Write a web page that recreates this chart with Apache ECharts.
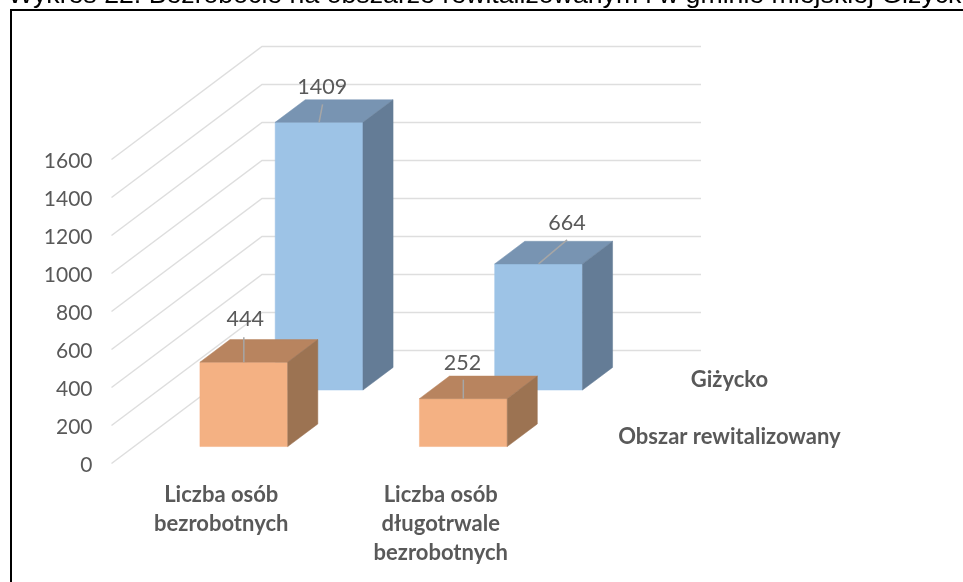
<!DOCTYPE html>
<html>
<head>
<meta charset="utf-8">
<title>Wykres 22</title>
<style>
  html, body { margin: 0; padding: 0; background: #fff; }
  #main { width: 963px; height: 582px; }
</style>
<script src="https://cdn.jsdelivr.net/npm/echarts@6/dist/echarts.min.js"></script>
</head>
<body>
<div id="main"></div>
<script>
const titleText = "Wykres 22. Bezrobocie na obszarze rewitalizowanym i w gminie miejskiej Giżycko";
const categories = ["Liczba osób\nbezrobotnych", "Liczba osób\ndługotrwale\nbezrobotnych"];
const seriesNames = ["Obszar rewitalizowany", "Giżycko"];
const rewitalizowany = [444, 252];
const gizycko = [1409, 664];
const yTicks = [0, 200, 400, 600, 800, 1000, 1200, 1400, 1600];

// the floor runs this far in pixels from the front plane to the back wall
const FLOOR_DX = 150.5;
const FLOOR_DY = -113;
const BAR_WIDTH = 0.4;  // share of a category band
const BAR_DEPTH = 0.2;  // share of the floor depth

const LABEL_FONT = "Lato, sans-serif";
const TEXT_COLOR = "#595959";

const blue = { front: "#9dc3e6", top: "#7894b2", side: "#647c96" };
const orange = { front: "#f4b183", top: "#b8845f", side: "#9c7352" };

// leader end and label centre, relative to the top front edge of the bar
const orangeLabels = [{ lx: 0, ly: -25, tx: 1.5, ty: -43 }, { lx: 0, ly: -19, tx: -0.8, ty: -36 }];
const blueLabels = [{ lx: 3.5, ly: -18, tx: 3.2, ty: -35 }, { lx: 28.5, ly: -24, tx: 28.5, ty: -41 }];

function project(p, depth) {
  return [p[0] + FLOOR_DX * depth, p[1] + FLOOR_DY * depth];
}

function face(points, color) {
  return {
    type: "polygon",
    shape: { points: points },
    style: { fill: color, stroke: color, lineWidth: 0.5 }
  };
}

function barRenderer(row, colors, labels) {
  const center = (row + 0.5) / 2;
  const d0 = center - BAR_DEPTH / 2;
  const d1 = center + BAR_DEPTH / 2;
  return function (params, api) {
    const cat = api.value(0);
    const value = api.value(1);
    const half = (api.size([1, 0])[0] * BAR_WIDTH) / 2;
    const top = api.coord([cat, value]);
    const base = api.coord([cat, 0]);
    const tl = [top[0] - half, top[1]];
    const tr = [top[0] + half, top[1]];
    const bl = [base[0] - half, base[1]];
    const br = [base[0] + half, base[1]];
    const mid = project(top, d0);
    const lab = labels[params.dataIndex];
    return {
      type: "group",
      children: [
        face([project(tl, d0), project(tr, d0), project(br, d0), project(bl, d0)], colors.front),
        face([project(tl, d0), project(tl, d1), project(tr, d1), project(tr, d0)], colors.top),
        face([project(tr, d0), project(tr, d1), project(br, d1), project(br, d0)], colors.side),
        {
          type: "line",
          shape: { x1: mid[0], y1: mid[1], x2: mid[0] + lab.lx, y2: mid[1] + lab.ly },
          style: { stroke: "#a6a6a6", lineWidth: 1.5 }
        },
        {
          type: "text",
          style: {
            text: String(value),
            x: mid[0] + lab.tx,
            y: mid[1] + lab.ty,
            fill: TEXT_COLOR,
            font: "21.5px " + LABEL_FONT,
            align: "center",
            verticalAlign: "middle"
          }
        }
      ]
    };
  };
}

function wallRenderer(params, api) {
  const v = api.value(1);
  const halfBand = api.size([1, 0])[0] / 2;
  const a = api.coord([0, v]);
  const b = api.coord([1, v]);
  const front = [a[0] - halfBand, a[1]];
  const right = [b[0] + halfBand, b[1]];
  return {
    type: "polyline",
    shape: { points: [front, project(front, 1), project(right, 1)] },
    style: { fill: "none", stroke: "#dedede", lineWidth: 1.5 }
  };
}

// depth axis labels sit at one x, past the right end of the floor
function depthLabelRenderer(params, api) {
  const row = api.value(0);
  const halfBand = api.size([1, 0])[0] / 2;
  const p = api.coord([1, 0]);
  const y = project(p, (row + 0.5) / 2)[1];
  return {
    type: "text",
    style: {
      text: seriesNames[row],
      x: p[0] + halfBand + 179,
      y: y + 1.5,
      fill: TEXT_COLOR,
      font: "bold 22px " + LABEL_FONT,
      align: "center",
      verticalAlign: "middle"
    }
  };
}

const chart = echarts.init(document.getElementById("main"), null, { renderer: "canvas" });

chart.setOption({
  animation: false,
  backgroundColor: "#fff",
  title: {
    text: titleText,
    left: 8,
    top: -18,
    padding: 0,
    textStyle: { fontFamily: "Liberation Sans", fontSize: 26.7, fontWeight: "normal", color: "#000" }
  },
  graphic: [{
    type: "polyline",
    shape: { points: [[11, 582], [11, 10], [963, 10]] },
    style: { fill: "none", stroke: "#000", lineWidth: 2 }
  }],
  grid: { left: 111.5, top: 159.5, width: 439, height: 304 },
  xAxis: {
    type: "category",
    data: categories,
    axisLine: { show: false },
    axisTick: { show: false },
    axisLabel: {
      interval: 0,
      margin: 17,
      lineHeight: 29,
      fontFamily: LABEL_FONT,
      fontSize: 22,
      fontWeight: "bold",
      color: TEXT_COLOR
    }
  },
  yAxis: {
    type: "value",
    min: 0,
    max: 1600,
    interval: 200,
    axisLine: { show: false },
    axisTick: { show: false },
    splitLine: { show: false },
    axisLabel: {
      margin: 19,
      formatter: (v) => "{t|" + v + "}",
      // rich padding nudges the figures down to sit on the front end of each gridline
      rich: {
        t: { padding: [4, 0, 0, 0], fontFamily: LABEL_FONT, fontSize: 21, color: TEXT_COLOR }
      }
    }
  },
  series: [
    {
      type: "custom",
      name: "siatka",
      z: 1,
      clip: false,
      silent: true,
      renderItem: wallRenderer,
      encode: { x: 0, y: 1 },
      data: yTicks.map((v) => [0, v])
    },
    {
      type: "custom",
      name: seriesNames[1],
      z: 2,
      clip: false,
      renderItem: barRenderer(1, blue, blueLabels),
      encode: { x: 0, y: 1 },
      data: gizycko.map((v, i) => [i, v])
    },
    {
      type: "custom",
      name: seriesNames[0],
      z: 3,
      clip: false,
      renderItem: barRenderer(0, orange, orangeLabels),
      encode: { x: 0, y: 1 },
      data: rewitalizowany.map((v, i) => [i, v])
    },
    {
      type: "custom",
      name: "etykiety",
      z: 4,
      clip: false,
      silent: true,
      renderItem: depthLabelRenderer,
      data: seriesNames.map((n, i) => [i])
    }
  ]
});
</script>
</body>
</html>
